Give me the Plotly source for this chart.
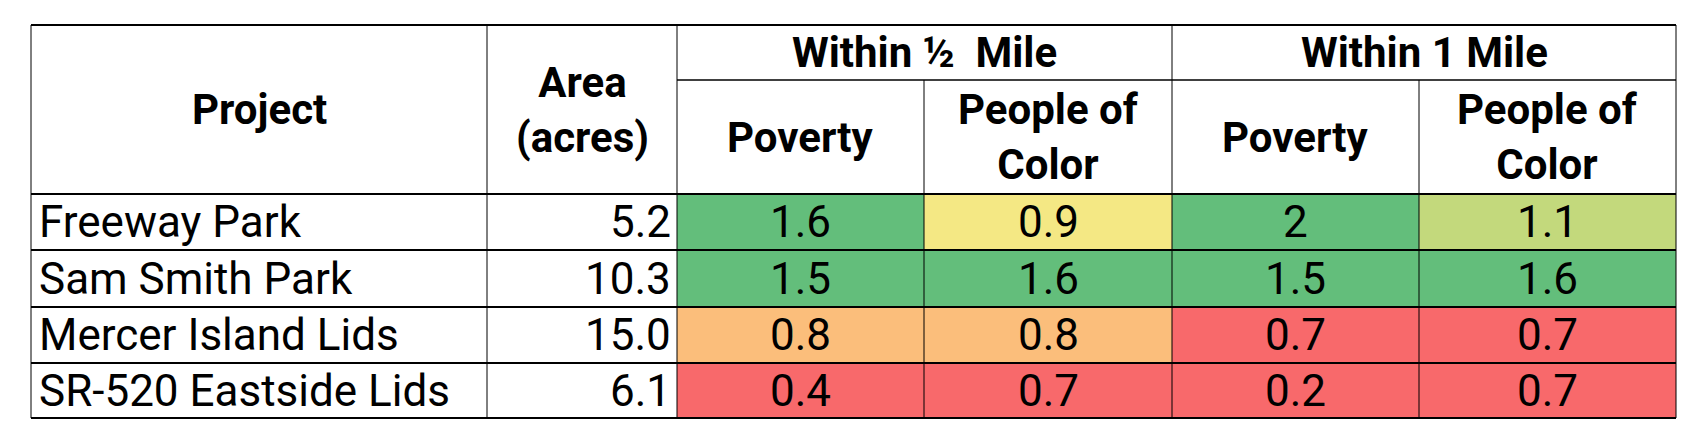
import plotly.graph_objects as go

projects = ["Freeway Park", "Sam Smith Park", "Mercer Island Lids", "SR-520 Eastside Lids"]
area = ["5.2", "10.3", "15.0", "6.1"]
half_poverty = [1.6, 1.5, 0.8, 0.4]
half_poc = [0.9, 1.6, 0.8, 0.7]
one_poverty = [2, 1.5, 0.7, 0.2]
one_poc = [1.1, 1.6, 0.7, 0.7]
group_labels = ["Within ½  Mile", "Within 1 Mile"]
sub_labels = ["Poverty", "People of<br>Color", "Poverty", "People of<br>Color"]

W, H = 1698, 447
cols = [23, 479, 669, 916, 1164, 1411, 1668]
rows = [17, 72, 186, 242, 299, 355, 410]

def cell_color(v):
    if v >= 1.5:
        return "#63BE7B"
    if v >= 1.05:
        return "#C3D97C"
    if v >= 0.85:
        return "#F4E884"
    if v >= 0.75:
        return "#FBBE7B"
    return "#F8696B"

fig = go.Figure()
shapes = []
ann = []
font = dict(family="Roboto", size=44, color="black")
bold = dict(family="Roboto", size=42, color="black")

series = [half_poverty, half_poc, one_poverty, one_poc]
for c, vals in enumerate(series):
    for r, v in enumerate(vals):
        x0, x1 = cols[c + 2], cols[c + 3]
        y0, y1 = rows[r + 2], rows[r + 3]
        shapes.append(dict(type="rect", x0=x0, x1=x1, y0=y0, y1=y1,
                           fillcolor=cell_color(v), line=dict(width=0), layer="below"))
        ann.append(dict(x=(x0 + x1) / 2, y=(y0 + y1) / 2, text=f"{v:g}", showarrow=False, font=font))

for r, (p, a) in enumerate(zip(projects, area)):
    yc = (rows[r + 2] + rows[r + 3]) / 2
    ann.append(dict(x=cols[0] + 6, y=yc, text=p, xanchor="left", showarrow=False, font=font))
    ann.append(dict(x=cols[2] - 4, y=yc, text=a, xanchor="right", showarrow=False, font=font))

# header
ann.append(dict(x=(cols[0] + cols[1]) / 2, y=(rows[0] + rows[2]) / 2, text="<b>Project</b>", showarrow=False, font=bold))
ann.append(dict(x=(cols[1] + cols[2]) / 2, y=(rows[0] + rows[2]) / 2, text="<b>Area<br>(acres)</b>", showarrow=False, font=bold))
for g, lab in enumerate(group_labels):
    ann.append(dict(x=(cols[2 + 2 * g] + cols[4 + 2 * g]) / 2, y=(rows[0] + rows[1]) / 2,
                    text=f"<b>{lab}</b>", showarrow=False, font=bold))
for i, lab in enumerate(sub_labels):
    ann.append(dict(x=(cols[2 + i] + cols[3 + i]) / 2, y=(rows[1] + rows[2]) / 2,
                    text=f"<b>{lab}</b>", showarrow=False, font=bold))

# grid lines
for y in [rows[0], rows[2], rows[3], rows[4], rows[5], rows[6]]:
    shapes.append(dict(type="line", x0=cols[0], x1=cols[-1], y0=y, y1=y, line=dict(color="black", width=2)))
shapes.append(dict(type="line", x0=cols[2], x1=cols[-1], y0=rows[1], y1=rows[1], line=dict(color="black", width=1.5)))
for i, x in enumerate(cols):
    y_start = rows[1] if i in (3, 5) else rows[0]
    shapes.append(dict(type="line", x0=x, x1=x, y0=y_start, y1=rows[-1], line=dict(color="black", width=1)))

fig.update_layout(
    width=W, height=H, margin=dict(l=0, r=0, t=0, b=0),
    paper_bgcolor="white", plot_bgcolor="white",
    xaxis=dict(range=[0, W], visible=False, fixedrange=True),
    yaxis=dict(range=[H, 0], visible=False, fixedrange=True),
    shapes=shapes, annotations=ann, showlegend=False,
)
fig.write_html("out.html")
